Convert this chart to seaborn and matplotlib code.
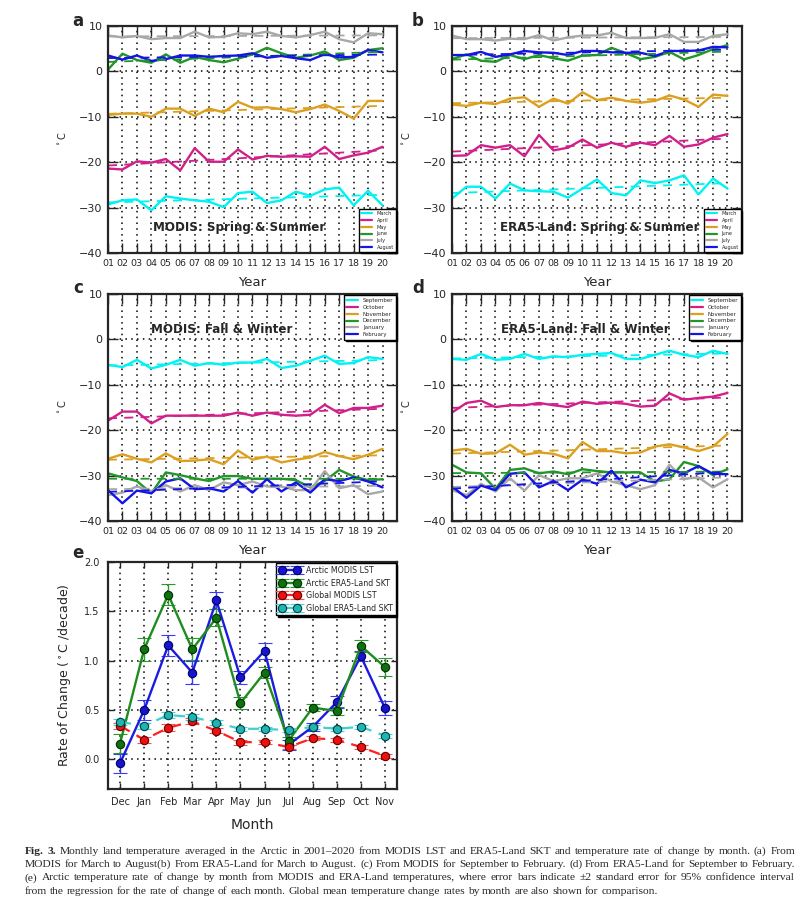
import numpy as np
import pandas as pd
import matplotlib
matplotlib.use("Agg")
import matplotlib.pyplot as plt
from matplotlib.lines import Line2D
import seaborn as sns

# ---- data ----------------------------------------------------------------
years = list(range(1, 21))
year_labels = [f"{y:02d}" for y in years]

spring_months = ["March", "April", "May", "June", "July", "August"]
fall_months = ["September", "October", "November", "December", "January", "February"]
month_colors = ["#00f2f2", "#d0208a", "#dca021", "#22962a", "#a8a8a8", "#1414e6"]

# a: MODIS, spring & summer
mar_a = [-29.3, -28.4, -28.2, -30.6, -27.5, -28.0, -28.4, -28.7, -29.9, -26.8, -26.5, -29.0, -28.4, -26.5, -27.4, -26.0, -25.6, -29.5, -26.3, -29.5]
apr_a = [-21.4, -21.6, -19.8, -20.1, -19.3, -21.8, -16.9, -19.9, -19.9, -17.2, -19.4, -18.6, -18.8, -18.7, -18.8, -16.6, -19.3, -18.5, -17.9, -16.6]
may_a = [-9.6, -9.3, -9.3, -10.0, -8.2, -8.2, -9.8, -8.2, -9.0, -6.7, -8.0, -7.9, -8.3, -9.0, -8.3, -7.3, -8.7, -10.4, -6.5, -6.5]
jun_a = [0.4, 3.9, 2.5, 1.9, 3.75, 1.9, 3.2, 2.5, 2.0, 2.8, 3.75, 5.2, 4.0, 3.0, 3.5, 4.4, 2.5, 3.0, 4.7, 5.1]
jul_a = [7.9, 7.5, 7.8, 7.1, 7.35, 7.35, 8.75, 7.5, 7.6, 8.4, 8.2, 8.75, 7.8, 7.5, 8.0, 8.75, 7.1, 6.4, 8.4, 8.2]
aug_a = [3.5, 2.6, 3.5, 2.3, 2.7, 3.5, 3.5, 3.2, 3.4, 3.5, 4.0, 3.0, 3.4, 2.9, 2.5, 3.8, 3.1, 3.2, 4.7, 4.2]

# b: ERA5-Land, spring & summer
mar_b = [-28.0, -25.4, -25.4, -28.0, -24.7, -26.2, -26.4, -26.5, -27.8, -25.8, -23.8, -26.8, -27.3, -24.0, -24.6, -24.0, -22.9, -27.1, -23.6, -25.8]
apr_b = [-18.6, -18.5, -16.25, -16.8, -16.25, -18.7, -14.0, -17.4, -16.8, -15.0, -16.8, -15.7, -16.6, -15.7, -16.25, -14.2, -16.6, -16.1, -14.6, -13.8]
may_b = [-7.3, -7.6, -6.9, -7.2, -6.0, -5.7, -7.8, -6.0, -7.1, -4.6, -6.3, -5.8, -6.5, -6.9, -6.5, -5.3, -6.2, -7.8, -5.1, -5.4]
jun_b = [2.7, 3.75, 2.35, 2.1, 3.6, 2.7, 3.6, 2.9, 2.35, 3.5, 3.6, 5.2, 4.0, 2.7, 3.2, 4.3, 2.65, 3.6, 4.9, 5.8]
jul_b = [7.9, 7.1, 7.1, 6.8, 7.2, 7.1, 8.0, 6.8, 7.5, 7.9, 7.9, 8.5, 7.35, 7.35, 7.4, 8.2, 6.5, 6.5, 7.8, 8.2]
aug_b = [3.6, 3.6, 4.3, 3.2, 3.75, 4.5, 4.2, 4.1, 3.6, 4.5, 4.5, 4.2, 4.1, 4.1, 3.4, 4.5, 4.5, 4.6, 5.4, 5.3]

# c: MODIS, fall & winter
sep_c = [-5.6, -6.1, -4.5, -6.4, -5.6, -4.5, -5.8, -5.2, -5.6, -5.1, -5.1, -4.3, -6.3, -5.8, -4.7, -3.6, -5.4, -5.2, -3.9, -4.3]
oct_c = [-17.9, -15.9, -15.9, -18.5, -16.8, -16.8, -16.8, -16.8, -16.8, -16.1, -16.8, -16.1, -16.6, -16.8, -16.6, -14.4, -16.25, -15.1, -15.1, -14.6]
nov_c = [-26.3, -25.3, -26.3, -27.1, -25.1, -26.8, -26.7, -26.4, -27.5, -24.5, -26.5, -25.8, -27.1, -26.5, -26.0, -24.8, -25.7, -26.4, -25.4, -24.1]
dec_c = [-29.5, -30.4, -31.2, -33.9, -29.3, -29.9, -30.6, -31.2, -30.1, -30.1, -30.7, -30.7, -30.7, -31.0, -32.6, -31.2, -28.75, -30.2, -31.0, -30.8]
jan_c = [-34.3, -33.75, -32.4, -33.4, -32.1, -33.5, -32.1, -33.2, -31.5, -32.1, -31.3, -32.4, -32.4, -33.2, -33.2, -29.0, -32.8, -32.1, -34.1, -33.5]
feb_c = [-33.2, -36.1, -33.3, -33.9, -31.3, -30.6, -33.0, -32.8, -33.5, -31.2, -33.75, -30.8, -33.5, -31.5, -33.75, -30.8, -31.2, -30.4, -31.3, -32.6]

# d: ERA5-Land, fall & winter
sep_d = [-4.3, -4.5, -3.2, -4.5, -4.3, -3.2, -4.3, -3.75, -3.9, -3.4, -3.2, -3.0, -4.3, -4.3, -3.4, -2.5, -3.4, -3.9, -2.5, -3.2]
oct_d = [-16.1, -14.0, -13.5, -14.9, -14.5, -14.5, -14.0, -14.5, -14.9, -13.7, -14.2, -13.9, -14.2, -14.8, -14.6, -11.9, -13.3, -12.9, -12.6, -11.8]
nov_d = [-24.5, -24.1, -25.2, -25.1, -23.2, -25.4, -24.9, -25.2, -26.2, -22.6, -24.6, -24.6, -25.1, -24.9, -23.6, -23.1, -23.8, -24.6, -23.6, -20.8]
dec_d = [-27.6, -29.3, -29.5, -32.9, -28.75, -28.4, -29.5, -29.1, -29.7, -28.6, -29.0, -29.3, -29.3, -29.3, -31.3, -30.8, -27.0, -27.9, -29.9, -28.6]
jan_d = [-33.2, -34.3, -31.8, -33.5, -30.6, -33.3, -29.9, -31.2, -30.6, -30.6, -29.5, -31.3, -32.1, -33.0, -32.1, -27.6, -30.7, -30.4, -32.6, -30.8]
feb_d = [-32.4, -34.9, -32.2, -33.2, -29.6, -29.3, -32.6, -31.2, -33.2, -30.9, -31.8, -28.9, -32.6, -30.9, -31.5, -28.75, -29.5, -27.9, -29.6, -29.7]

# e: rate of change by month
months_e = ["Dec", "Jan", "Feb", "Mar", "Apr", "May", "Jun", "Jul", "Aug", "Sep", "Oct", "Nov"]
arctic_modis = [-0.04, 0.50, 1.155, 0.88, 1.61, 0.83, 1.10, 0.15, 0.33, 0.58, 1.045, 0.52]
arctic_modis_err = [0.095, 0.10, 0.11, 0.115, 0.09, 0.07, 0.08, 0.05, 0.04, 0.06, 0.05, 0.07]
arctic_era5 = [0.16, 1.115, 1.67, 1.115, 1.435, 0.57, 0.88, 0.19, 0.525, 0.49, 1.15, 0.935]
arctic_era5_err = [0.10, 0.12, 0.11, 0.11, 0.085, 0.06, 0.06, 0.04, 0.035, 0.04, 0.06, 0.09]
global_modis = [0.34, 0.20, 0.32, 0.385, 0.29, 0.175, 0.175, 0.125, 0.215, 0.20, 0.125, 0.035]
global_modis_err = [0.03, 0.03, 0.035, 0.03, 0.025, 0.025, 0.02, 0.02, 0.02, 0.02, 0.02, 0.02]
global_era5 = [0.38, 0.34, 0.45, 0.43, 0.37, 0.31, 0.31, 0.295, 0.33, 0.31, 0.33, 0.24]
global_era5_err = [0.03, 0.03, 0.03, 0.03, 0.025, 0.02, 0.02, 0.02, 0.02, 0.02, 0.02, 0.02]

caption = [
    "Monthly land temperature averaged in the Arctic in 2001\u20132020 from MODIS LST and ERA5-Land SKT and temperature rate of change by month. (a) From",
    "MODIS for March to August(b) From ERA5-Land for March to August. (c) From MODIS for September to February. (d) From ERA5-Land for September to February.",
    "(e) Arctic temperature rate of change by month from MODIS and ERA-Land temperatures, where error bars indicate \u00b12 standard error for 95% confidence interval",
    "from the regression for the rate of change of each month. Global mean temperature change rates by month are also shown for comparison.",
]

# ---- style ---------------------------------------------------------------
sns.set_style("ticks")
plt.rcParams["font.family"] = ["DejaVu Sans"]
plt.rcParams["axes.linewidth"] = 1.6

W, H = 804, 902
fig = plt.figure(figsize=(W / 100, H / 100), dpi=100)
grid_ls = (0, (1, 2.8))


def px_axes(left, top, right, bottom):
    return fig.add_axes([left / W, 1 - bottom / H, (right - left) / W, (bottom - top) / H])


def temp_panel(ax, series, months, title, tx, ty, loc, legend_fs):
    df = pd.DataFrame({
        "year": years * len(months),
        "temp": [v for s in series for v in s],
        "month": [m for m in months for _ in years],
    })
    sns.lineplot(data=df, x="year", y="temp", hue="month", hue_order=months,
                 palette=month_colors, estimator=None, lw=1.7, legend=False, ax=ax)
    for vals, c in zip(series, month_colors):
        sns.regplot(x=years, y=vals, scatter=False, ci=None, ax=ax,
                    line_kws=dict(color=c, lw=1.3, ls=(0, (5, 4))))
    ax.set_xlim(1, 21)
    ax.set_ylim(-40, 10)
    ax.set_xticks(years)
    ax.set_xticklabels(year_labels, fontsize=6.8)
    ax.set_yticks([-40, -30, -20, -10, 0, 10])
    ax.tick_params(axis="y", labelsize=8)
    ax.tick_params(direction="in", length=7, width=1, top=True, right=True, pad=4)
    ax.grid(True, ls=grid_ls, color="k", lw=1.1)
    ax.set_xlabel("Year", fontsize=9.5, labelpad=6)
    ax.set_ylabel("$^\\circ$C", fontsize=7, labelpad=8)
    ax.text(tx, ty, title, fontsize=8.6, fontweight="bold", ha="center", va="center")
    handles = [Line2D([], [], color=c, lw=1.6) for c in month_colors]
    ax.legend(handles, months, loc=loc, fontsize=legend_fs, frameon=True, fancybox=False,
              edgecolor="k", framealpha=1, borderaxespad=0.25, handlelength=2.2,
              labelspacing=0.35, shadow={"color": "k", "alpha": 1, "ox": 1.2, "oy": -1.2})
    for s in ax.spines.values():
        s.set_linewidth(1.6)


ax_a = px_axes(108, 26, 397, 253)
temp_panel(ax_a, [mar_a, apr_a, may_a, jun_a, jul_a, aug_a], spring_months,
           "MODIS: Spring & Summer", 10.1, -34.4, "lower right", 3.6)
ax_b = px_axes(452, 26, 742, 253)
temp_panel(ax_b, [mar_b, apr_b, may_b, jun_b, jul_b, aug_b], spring_months,
           "ERA5-Land: Spring & Summer", 11.2, -34.4, "lower right", 3.6)
ax_c = px_axes(108, 294, 397, 521)
temp_panel(ax_c, [sep_c, oct_c, nov_c, dec_c, jan_c, feb_c], fall_months,
           "MODIS: Fall & Winter", 8.9, 2.1, "upper right", 4.0)
ax_d = px_axes(452, 294, 742, 521)
temp_panel(ax_d, [sep_d, oct_d, nov_d, dec_d, jan_d, feb_d], fall_months,
           "ERA5-Land: Fall & Winter", 10.2, 2.1, "upper right", 4.0)

# ---- panel e -------------------------------------------------------------
ax_e = px_axes(108, 562, 397, 789)
xe = np.arange(len(months_e))
ax_e.errorbar(xe, arctic_modis, yerr=arctic_modis_err, fmt="o-", color="#1c1ce0", lw=1.7,
              ms=6, mfc="#1515d0", mec="#000060", mew=0.8, ecolor="#3a3aff", elinewidth=1,
              capsize=5, capthick=1, label="Arctic MODIS LST")
ax_e.errorbar(xe, arctic_era5, yerr=arctic_era5_err, fmt="o-", color="#1e8c1e", lw=1.7,
              ms=6, mfc="#0f700f", mec="#003000", mew=0.8, ecolor="#2a9a2a", elinewidth=1,
              capsize=5, capthick=1, label="Arctic ERA5-Land SKT")
ax_e.errorbar(xe, global_modis, yerr=global_modis_err, fmt="o--", color="#ff2020", lw=1.6,
              ms=6, mfc="#ee1010", mec="#600000", mew=0.8, ecolor="#ff5050", elinewidth=1,
              capsize=5, capthick=1, dashes=(5, 3.5), label="Global MODIS LST")
ax_e.errorbar(xe, global_era5, yerr=global_era5_err, fmt="o--", color="#40d0d0", lw=1.6,
              ms=6, mfc="#20b4b4", mec="#004040", mew=0.8, ecolor="#40d8d8", elinewidth=1,
              capsize=5, capthick=1, dashes=(5, 3.5), label="Global ERA5-Land SKT")
ax_e.set_xlim(-0.5, 11.5)
ax_e.set_ylim(-0.3, 2.0)
ax_e.set_xticks(xe)
ax_e.set_xticklabels(months_e, fontsize=7)
ax_e.set_yticks([0, 0.5, 1.0, 1.5, 2.0])
ax_e.set_yticklabels(["0.0", "0.5", "1.0", "1.5", "2.0"], fontsize=7)
ax_e.tick_params(direction="in", length=4, width=1, top=True, right=True, pad=6)
ax_e.grid(True, ls=grid_ls, color="k", lw=1.1)
ax_e.set_xlabel("Month", fontsize=10, labelpad=8)
ax_e.set_ylabel("Rate of Change ($^\\circ$C /decade)", fontsize=9, labelpad=8)
for s in ax_e.spines.values():
    s.set_linewidth(1.6)
ax_e.legend(loc="upper right", fontsize=5.7, numpoints=2, frameon=True, fancybox=False,
            edgecolor="k", framealpha=1, borderaxespad=0.15, handlelength=2.6,
            labelspacing=0.45, borderpad=0.35,
            shadow={"color": "k", "alpha": 1, "ox": 1.2, "oy": -1.2})

# ---- panel letters -------------------------------------------------------
for letter, x, y in [("a", 78, 21), ("b", 418, 21), ("c", 78, 288), ("d", 418, 288), ("e", 78, 553)]:
    fig.text(x / W, 1 - y / H, letter, fontsize=12, fontweight="bold", ha="center", va="center")

# ---- caption (justified) -------------------------------------------------
renderer = fig.canvas.get_renderer()
x0, x1 = 25, 795
line_y = [851, 864.5, 878, 891.5]


def caption_words(i, line):
    words = [(w, "normal") for w in line.split(" ")]
    if i == 0:
        words = [("Fig.", "bold"), ("3.", "bold")] + words
    return words


# pick the font size so the widest line fits with ordinary word spaces
probe_fs = 10.0
natural = []
for i, line in enumerate(caption):
    words = caption_words(i, line)
    tmp = [fig.text(0, 0, w, fontsize=probe_fs, fontweight=wt, family="Liberation Serif")
           for w, wt in words]
    total = sum(t.get_window_extent(renderer).width for t in tmp)
    total += 0.25 * probe_fs * 100 / 72 * (len(words) - 1)
    natural.append(total)
    for t in tmp:
        t.remove()
cap_fs = probe_fs * (x1 - x0) / max(natural)
space_px = 0.25 * cap_fs * 100 / 72

for i, (line, y) in enumerate(zip(caption, line_y)):
    words = caption_words(i, line)
    texts = [fig.text(0, 1 - y / H, w, fontsize=cap_fs, fontweight=wt,
                      family="Liberation Serif", ha="left", va="center") for w, wt in words]
    widths = [t.get_window_extent(renderer).width for t in texts]
    if i < len(caption) - 1:
        gap = (x1 - x0 - sum(widths)) / (len(words) - 1)
    else:
        gap = space_px
    x = x0
    for t, wd in zip(texts, widths):
        t.set_x(x / W)
        x += wd + gap

fig.savefig("out.png", dpi=100)
